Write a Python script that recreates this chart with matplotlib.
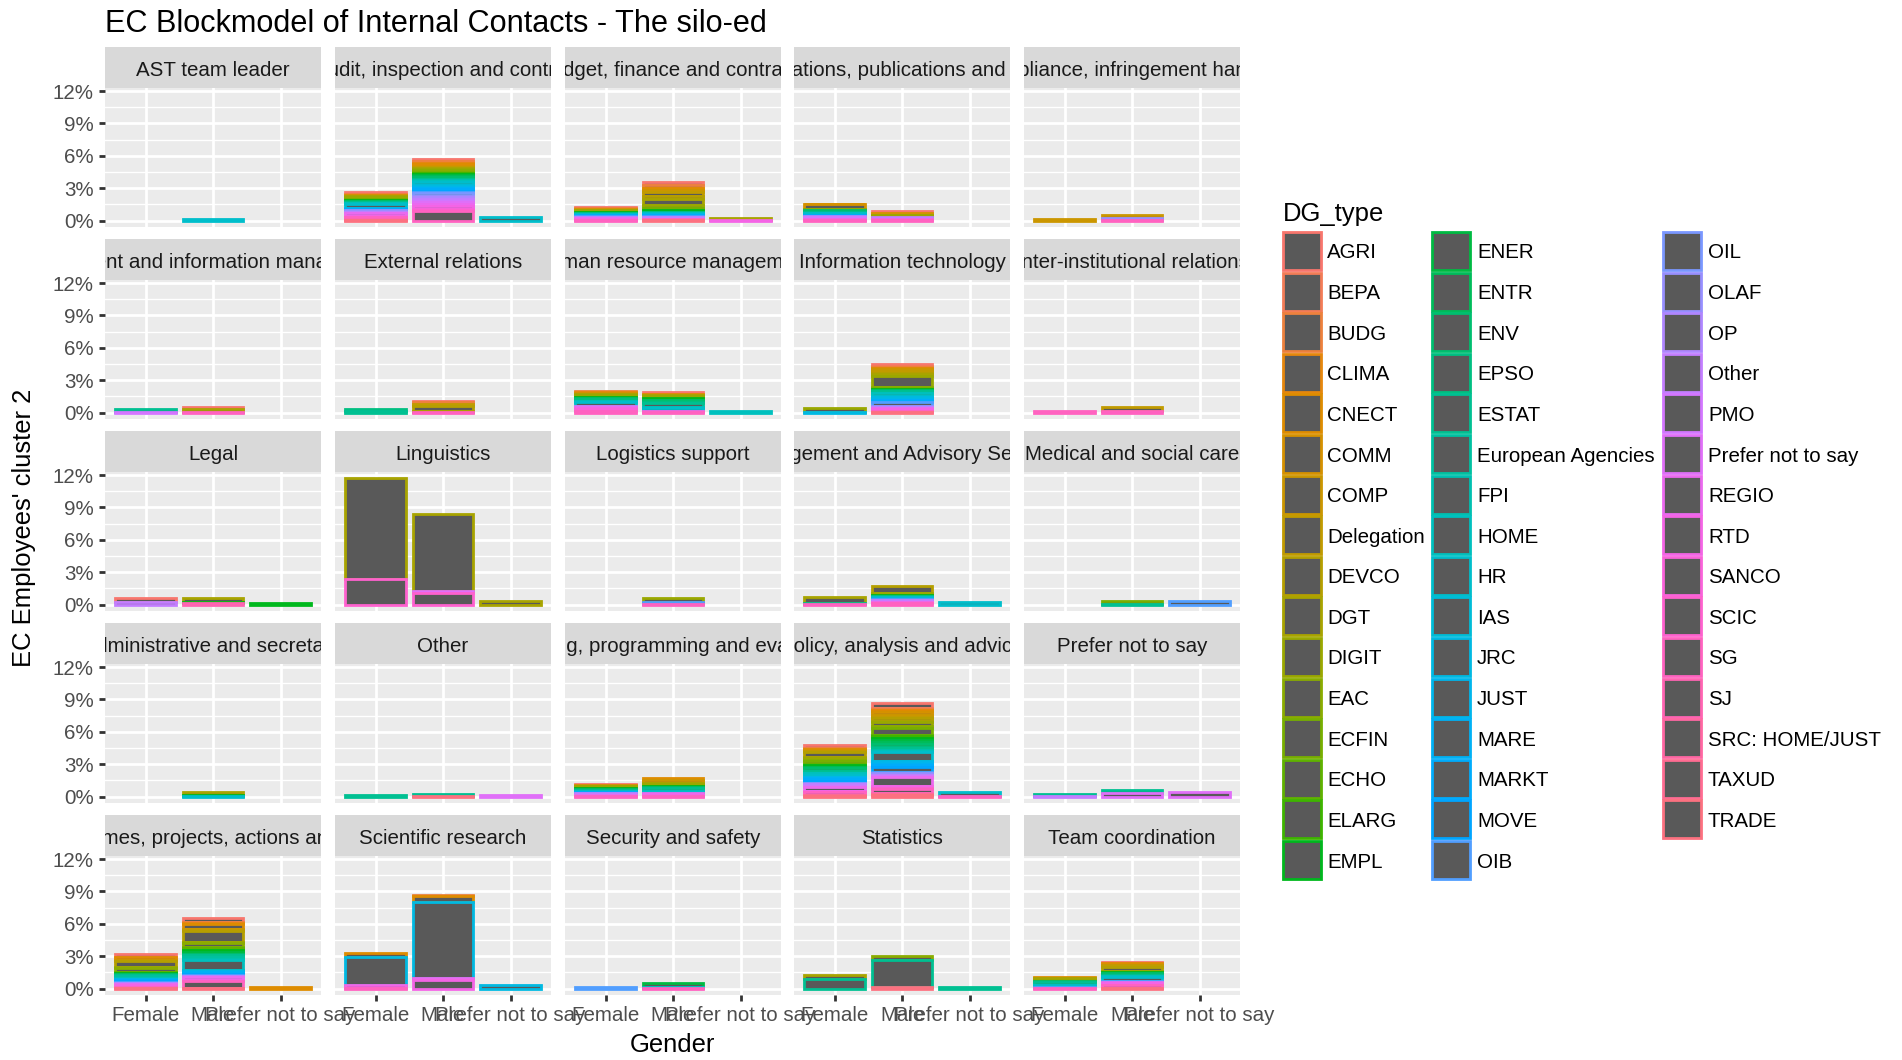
import numpy as np
import matplotlib
matplotlib.use("Agg")
import matplotlib.pyplot as plt
from matplotlib.patches import Rectangle

plt.rcParams["font.family"] = ["Liberation Sans", "DejaVu Sans"]

# ---------------------------------------------------------------- data (%)
DG_TYPES = ["AGRI", "BEPA", "BUDG", "CLIMA", "CNECT", "COMM", "COMP", "Delegation",
            "DEVCO", "DGT", "DIGIT", "EAC", "ECFIN", "ECHO", "ELARG", "EMPL",
            "ENER", "ENTR", "ENV", "EPSO", "ESTAT", "European Agencies", "FPI",
            "HOME", "HR", "IAS", "JRC", "JUST", "MARE", "MARKT", "MOVE", "OIB",
            "OIL", "OLAF", "OP", "Other", "PMO", "Prefer not to say", "REGIO",
            "RTD", "SANCO", "SCIC", "SG", "SJ", "SRC: HOME/JUST", "TAXUD", "TRADE"]

GENDERS = ["Female", "Male", "Prefer not to say"]

FACETS = ["AST team leader", "Audit, inspection and control",
          "Budget, finance and contracts", "Communications, publications and multimedia",
          "Compliance, infringement handling", "Document and information management",
          "External relations", "Human resource management", "Information technology",
          "Inter-institutional relations", "Legal", "Linguistics", "Logistics support",
          "Management and Advisory Services", "Medical and social care",
          "Office administrative and secretarial work", "Other",
          "Planning, programming and evaluation", "Policy, analysis and advice",
          "Prefer not to say", "Programmes, projects, actions and grants",
          "Scientific research", "Security and safety", "Statistics",
          "Team coordination"]

ast_team_leader = {"Female": {}, "Male": {"HR": 0.15}, "Prefer not to say": {}}

audit = {
    "Female": {"AGRI": 0.15, "BUDG": 0.15, "COMM": 0.1, "DGT": 0.1, "DIGIT": 0.15,
               "ECFIN": 0.1, "EMPL": 0.1, "ENV": 0.1, "ESTAT": 0.1, "HOME": 0.1,
               "HR": 0.3, "JUST": 0.1, "MARKT": 0.1, "OLAF": 0.15, "Other": 0.1,
               "REGIO": 0.35, "RTD": 0.1, "SG": 0.15, "SJ": 0.1, "TRADE": 0.05},
    "Male": {"AGRI": 0.2, "BUDG": 0.2, "CLIMA": 0.1, "CNECT": 0.15, "COMM": 0.1,
             "Delegation": 0.1, "DGT": 0.1, "DIGIT": 0.15, "EAC": 0.1, "ECFIN": 0.1,
             "ELARG": 0.1, "EMPL": 0.15, "ENER": 0.1, "ENTR": 0.1, "ENV": 0.15,
             "ESTAT": 0.1, "FPI": 0.1, "HOME": 0.1, "HR": 0.2, "IAS": 0.15, "JRC": 0.1,
             "JUST": 0.1, "MARE": 0.1, "MARKT": 0.15, "MOVE": 0.1, "OIB": 0.1,
             "OIL": 0.3, "OLAF": 0.1, "OP": 0.1, "Other": 0.2, "PMO": 0.15,
             "Prefer not to say": 0.15, "REGIO": 0.2, "RTD": 0.25, "SANCO": 0.1,
             "SCIC": 0.1, "SG": 0.9},
    "Prefer not to say": {"HR": 0.3},
}

budget = {
    "Female": {"AGRI": 0.05, "BUDG": 0.1, "COMM": 0.1, "DGT": 0.05, "DIGIT": 0.1,
               "EMPL": 0.1, "ESTAT": 0.1, "HR": 0.1, "MARKT": 0.1, "OIB": 0.1,
               "Other": 0.1, "REGIO": 0.1, "RTD": 0.05, "SG": 0.1},
    "Male": {"AGRI": 0.25, "BUDG": 0.3, "CNECT": 0.15, "COMP": 0.2, "Delegation": 0.4,
             "DEVCO": 0.2, "DGT": 0.6, "DIGIT": 0.3, "ECFIN": 0.2, "EMPL": 0.15,
             "ESTAT": 0.1, "HR": 0.1, "JRC": 0.1, "MARKT": 0.1, "OIB": 0.1,
             "Other": 0.1, "RTD": 0.05, "SG": 0.1, "TRADE": 0.05},
    "Prefer not to say": {"DGT": 0.2, "RTD": 0.05},
}

communications = {
    "Female": {"CNECT": 0.07, "COMM": 0.45, "EAC": 0.1, "ENV": 0.1, "ESTAT": 0.15,
               "HR": 0.15, "MARKT": 0.1, "OP": 0.15, "PMO": 0.1, "RTD": 0.1, "SG": 0.1},
    "Male": {"AGRI": 0.15, "COMM": 0.2, "DIGIT": 0.25, "Other": 0.1, "RTD": 0.1, "SG": 0.1},
    "Prefer not to say": {},
}

compliance = {
    "Female": {"COMP": 0.2},
    "Male": {"COMP": 0.27, "OLAF": 0.15, "SG": 0.1},
    "Prefer not to say": {},
}

document_management = {
    "Female": {"ESTAT": 0.28, "PMO": 0.1},
    "Male": {"AGRI": 0.2, "DGT": 0.3, "SG": 0.05},
    "Prefer not to say": {},
}

external_relations = {
    "Female": {"EPSO": 0.15, "ESTAT": 0.2},
    "Male": {"AGRI": 0.15, "BUDG": 0.1, "Delegation": 0.2, "DEVCO": 0.45, "DGT": 0.15,
             "SG": 0.05},
    "Prefer not to say": {},
}

human_resources = {
    "Female": {"BUDG": 0.1, "CLIMA": 0.1, "COMM": 0.1, "DGT": 0.1, "DIGIT": 0.15,
               "EMPL": 0.1, "ENV": 0.1, "EPSO": 0.15, "HOME": 0.1, "HR": 0.35,
               "PMO": 0.1, "REGIO": 0.1, "SANCO": 0.1, "RTD": 0.15, "SG": 0.2},
    "Male": {"AGRI": 0.2, "CNECT": 0.1, "DGT": 0.1, "DIGIT": 0.2, "EMPL": 0.15,
             "ENV": 0.2, "EPSO": 0.1, "ESTAT": 0.4, "HOME": 0.1, "HR": 0.2,
             "RTD": 0.1, "SG": 0.1},
    "Prefer not to say": {"HOME": 0.2},
}

information_technology = {
    "Female": {"DIGIT": 0.35, "JRC": 0.1},
    "Male": {"AGRI": 0.2, "BEPA": 0.1, "BUDG": 0.1, "CNECT": 0.15, "COMP": 0.15,
             "Delegation": 0.15, "DEVCO": 0.1, "DGT": 0.2, "DIGIT": 1.0, "EAC": 0.1,
             "ECFIN": 0.1, "EMPL": 0.1, "ENV": 0.1, "ESTAT": 0.15, "HOME": 0.3,
             "HR": 0.1, "JRC": 0.2, "JUST": 0.1, "MARKT": 0.2, "OIB": 0.3,
             "OLAF": 0.1, "Other": 0.15, "REGIO": 0.1, "RTD": 0.1, "SG": 0.15,
             "TRADE": 0.05},
    "Prefer not to say": {},
}

inter_institutional = {
    "Female": {"SG": 0.18},
    "Male": {"Delegation": 0.37, "SG": 0.12},
    "Prefer not to say": {},
}

legal = {
    "Female": {"AGRI": 0.33, "Other": 0.25},
    "Male": {"DGT": 0.35, "EMPL": 0.05, "SJ": 0.2},
    "Prefer not to say": {"EMPL": 0.2},
}

linguistics = {
    "Female": {"DGT": 9.35, "SCIC": 2.35},
    "Male": {"DGT": 7.15, "Prefer not to say": 0.15, "SCIC": 1.1},
    "Prefer not to say": {"DGT": 0.35},
}

logistics = {
    "Female": {},
    "Male": {"DIGIT": 0.35, "OIB": 0.15, "SG": 0.1},
    "Prefer not to say": {},
}

management_advisory = {
    "Female": {"DGT": 0.55, "ESTAT": 0.1, "SG": 0.05},
    "Male": {"DEVCO": 0.6, "DIGIT": 0.2, "EMPL": 0.1, "ESTAT": 0.1, "HR": 0.1,
             "JRC": 0.1, "OIB": 0.1, "Other": 0.15, "RTD": 0.1, "SG": 0.15},
    "Prefer not to say": {"HR": 0.25},
}

medical = {
    "Female": {},
    "Male": {"ECFIN": 0.3, "ESTAT": 0.05},
    "Prefer not to say": {"OIB": 0.3},
}

office_admin = {
    "Female": {},
    "Male": {"DGT": 0.28, "EMPL": 0.05, "HR": 0.1},
    "Prefer not to say": {},
}

other_function = {
    "Female": {"ESTAT": 0.2},
    "Male": {"ESTAT": 0.23, "TRADE": 0.05},
    "Prefer not to say": {"Prefer not to say": 0.2},
}

planning = {
    "Female": {"AGRI": 0.1, "COMM": 0.1, "DIGIT": 0.15, "EMPL": 0.1, "ENV": 0.1,
               "ESTAT": 0.15, "HR": 0.1, "MARKT": 0.1, "Other": 0.1, "REGIO": 0.1,
               "SG": 0.1},
    "Male": {"CNECT": 0.2, "COMP": 0.25, "DGT": 0.1, "DIGIT": 0.15, "EMPL": 0.1,
             "ENV": 0.1, "ESTAT": 0.3, "HOME": 0.1, "HR": 0.1, "REGIO": 0.1,
             "RTD": 0.1, "SG": 0.1},
    "Prefer not to say": {},
}

policy = {
    "Female": {"AGRI": 0.25, "BUDG": 0.1, "CNECT": 0.1, "COMM": 0.1, "Delegation": 0.1,
               "DEVCO": 0.5, "DGT": 0.1, "DIGIT": 0.15, "EAC": 0.1, "ECFIN": 0.3,
               "ECHO": 0.1, "EMPL": 0.15, "ENTR": 0.1, "ENV": 0.3, "ESTAT": 0.15,
               "HOME": 0.2, "HR": 0.15, "JUST": 0.1, "MARE": 0.15, "MARKT": 0.15,
               "MOVE": 0.15, "OLAF": 0.1, "Other": 0.2, "PMO": 0.1, "REGIO": 0.35,
               "RTD": 0.15, "SG": 0.25, "TAXUD": 0.05, "TRADE": 0.1},
    "Male": {"AGRI": 0.4, "BEPA": 0.1, "BUDG": 0.1, "CLIMA": 0.1, "CNECT": 0.15,
             "COMM": 0.2, "COMP": 0.2, "Delegation": 0.15, "DEVCO": 0.2, "DGT": 0.15,
             "DIGIT": 0.4, "EAC": 0.1, "ECFIN": 0.7, "ECHO": 0.1, "ELARG": 0.15,
             "EMPL": 0.2, "ENER": 0.2, "ENTR": 0.15, "ENV": 0.3, "EPSO": 0.1,
             "ESTAT": 0.15, "FPI": 0.1, "HOME": 0.15, "HR": 0.75, "JRC": 0.15,
             "JUST": 0.15, "MARE": 0.1, "MARKT": 0.2, "MOVE": 0.45, "OIB": 0.15,
             "OLAF": 0.1, "Other": 0.15, "PMO": 0.1, "REGIO": 0.85, "RTD": 0.15,
             "SCIC": 0.1, "SG": 0.35, "SJ": 0.1, "TAXUD": 0.1, "TRADE": 0.15},
    "Prefer not to say": {"HR": 0.4, "SG": 0.05},
}

prefer_not_to_say = {
    "Female": {"ESTAT": 0.2, "Other": 0.05},
    "Male": {"ESTAT": 0.28, "Prefer not to say": 0.3},
    "Prefer not to say": {"Prefer not to say": 0.4},
}

programmes = {
    "Female": {"AGRI": 0.3, "CNECT": 0.25, "COMP": 0.1, "DEVCO": 0.5, "DIGIT": 0.1,
               "EAC": 0.4, "ECHO": 0.1, "EMPL": 0.1, "ENV": 0.1, "ESTAT": 0.1,
               "European Agencies": 0.15, "HOME": 0.1, "JUST": 0.1, "MARKT": 0.1,
               "MOVE": 0.1, "OIB": 0.1, "Other": 0.1, "REGIO": 0.1, "RTD": 0.1,
               "SG": 0.15, "TRADE": 0.05},
    "Male": {"AGRI": 0.3, "BUDG": 0.15, "CLIMA": 0.1, "CNECT": 0.45, "COMP": 0.1,
             "Delegation": 0.1, "DEVCO": 1.0, "DIGIT": 0.1, "EAC": 0.3, "ECFIN": 0.15,
             "ECHO": 0.15, "EMPL": 0.2, "ENER": 0.15, "ENV": 0.15, "ESTAT": 0.15,
             "European Agencies": 0.2, "FPI": 0.1, "HOME": 0.95, "HR": 0.1,
             "JUST": 0.1, "MARE": 0.1, "MOVE": 0.1, "OIB": 0.15, "Other": 0.1,
             "REGIO": 0.2, "RTD": 0.1, "SG": 0.7, "TRADE": 0.05},
    "Prefer not to say": {"CNECT": 0.2},
}

scientific_research = {
    "Female": {"CNECT": 0.4, "JRC": 2.55, "RTD": 0.25, "SG": 0.1},
    "Male": {"BUDG": 0.15, "CNECT": 0.55, "JRC": 7.0, "REGIO": 0.2, "RTD": 0.8},
    "Prefer not to say": {"JRC": 0.37},
}

security = {
    "Female": {"OIB": 0.18},
    "Male": {"ENER": 0.35, "HR": 0.1, "SG": 0.05},
    "Prefer not to say": {},
}

statistics = {
    "Female": {"DGT": 0.35, "ESTAT": 0.9},
    "Male": {"EAC": 0.3, "ESTAT": 2.5, "TRADE": 0.2},
    "Prefer not to say": {"ESTAT": 0.2},
}

team_coordination = {
    "Female": {"CNECT": 0.15, "DGT": 0.1, "DIGIT": 0.15, "ENV": 0.1, "ESTAT": 0.25,
               "HR": 0.15, "OIB": 0.1, "SG": 0.1},
    "Male": {"AGRI": 0.15, "CNECT": 0.2, "Delegation": 0.1, "DEVCO": 0.4, "DIGIT": 0.1,
             "EMPL": 0.1, "ENV": 0.15, "ESTAT": 0.15, "HOME": 0.1, "HR": 0.3,
             "OIB": 0.1, "REGIO": 0.15, "RTD": 0.2, "SG": 0.25, "TRADE": 0.05},
    "Prefer not to say": {},
}

FACET_DATA = [ast_team_leader, audit, budget, communications, compliance,
              document_management, external_relations, human_resources,
              information_technology, inter_institutional, legal, linguistics,
              logistics, management_advisory, medical, office_admin, other_function,
              planning, policy, prefer_not_to_say, programmes, scientific_research,
              security, statistics, team_coordination]

Y_BREAKS = [0, 3, 6, 9, 12]


# ---------------------------------------------------------------- colours
def hcl_hex(h, c=100.0, l=65.0):
    """Polar LUV -> sRGB hex, as used by ggplot2's default hue palette."""
    xn, yn, zn = 95.047, 100.0, 108.883
    hr = np.deg2rad(h)
    U, V = c * np.cos(hr), c * np.sin(hr)
    Y = yn * ((l + 16.0) / 116.0) ** 3
    t = xn + yn + zn
    x, y = xn / t, yn / t
    un = 2 * x / (6 * y - x + 1.5)
    vn = 4.5 * y / (6 * y - x + 1.5)
    u = U / (13 * l) + un
    v = V / (13 * l) + vn
    X = 9.0 * Y * u / (4 * v)
    Z = -X / 3.0 - 5.0 * Y + 3.0 * Y / v
    X, Y, Z = X / yn, Y / yn, Z / yn
    rgb = [3.240479 * X - 1.537150 * Y - 0.498535 * Z,
           -0.969256 * X + 1.875992 * Y + 0.041556 * Z,
           0.055648 * X - 0.204043 * Y + 1.057311 * Z]
    out = []
    for ch in rgb:
        ch = 1.055 * ch ** (1 / 2.4) - 0.055 if ch > 0.0031308 else 12.92 * ch
        out.append(min(max(ch, 0.0), 1.0))
    return "#%02x%02x%02x" % tuple(int(round(255 * ch)) for ch in out)


n_dg = len(DG_TYPES)
hues = np.linspace(15, 375, n_dg + 1)[:n_dg]
DG_COLOURS = {name: hcl_hex(h) for name, h in zip(DG_TYPES, hues)}
BAR_FILL = "#595959"

# ---------------------------------------------------------------- layout (pixels)
W, H = 1902, 1060
fig = plt.figure(figsize=(W / 100, H / 100), dpi=100)
fig.patch.set_facecolor("white")


def frac(left, top, width, height):
    return [left / W, 1 - (top + height) / H, width / W, height / H]


PANEL_LEFT = [105, 335, 565, 794, 1024]
PANEL_W = 216
STRIP_TOP0, STRIP_H = 47, 41
PANEL_TOP0, PANEL_H = 88, 139
ROW_STEP = 192

TEXT_PT = 14.8
TITLE_PT = 22.1
AXTITLE_PT = 18.45

totals = [sum(d[g].values()) for d in FACET_DATA for g in GENDERS]
ymax = max(totals)
ylo, yhi = -0.05 * ymax, 1.05 * ymax

for k, (name, data) in enumerate(zip(FACETS, FACET_DATA)):
    r, c = divmod(k, 5)

    # strip
    sax = fig.add_axes(frac(PANEL_LEFT[c], STRIP_TOP0 + r * ROW_STEP, PANEL_W, STRIP_H))
    sax.set_facecolor("#D9D9D9")
    sax.set_xticks([])
    sax.set_yticks([])
    for sp in sax.spines.values():
        sp.set_visible(False)
    sax.text(0.5, 0.43, name, transform=sax.transAxes, ha="center", va="center",
             fontsize=TEXT_PT, color="#1A1A1A", clip_on=True)

    # panel
    ax = fig.add_axes(frac(PANEL_LEFT[c], PANEL_TOP0 + r * ROW_STEP, PANEL_W, PANEL_H))
    ax.set_facecolor("#EBEBEB")
    for sp in ax.spines.values():
        sp.set_visible(False)
    ax.set_xlim(0.4, 3.6)
    ax.set_ylim(ylo, yhi)
    ax.set_axisbelow(True)

    for gi, g in enumerate(GENDERS):
        segs = data[g]
        # stack: last level at the bottom, first level on top
        bottoms = {}
        acc = 0.0
        for dg in reversed(DG_TYPES):
            if dg in segs:
                bottoms[dg] = acc
                acc += segs[dg]
        for zi, dg in enumerate(DG_TYPES):
            if dg in segs:
                ax.bar(gi + 1, segs[dg], bottom=bottoms[dg], width=0.9,
                       color=BAR_FILL, edgecolor=DG_COLOURS[dg], linewidth=2.0,
                       zorder=2 + zi * 0.01)

    ax.set_xticks([1, 2, 3])
    ax.set_yticks(Y_BREAKS)
    ax.set_yticks([1.5, 4.5, 7.5, 10.5], minor=True)
    ax.grid(which="major", color="white", linewidth=2.0)
    ax.grid(which="minor", axis="y", color="white", linewidth=1.0)
    ax.tick_params(which="minor", length=0)
    ax.tick_params(which="major", length=4.6, width=2.0, color="#333333",
                   labelcolor="#4D4D4D", labelsize=TEXT_PT, pad=3.5)

    if c == 0:
        ax.set_yticklabels([f"{v}%" for v in Y_BREAKS])
    else:
        ax.tick_params(axis="y", length=0, labelleft=False)
    if r == 4:
        ax.set_xticklabels(GENDERS)
    else:
        ax.tick_params(axis="x", length=0, labelbottom=False)

# ---------------------------------------------------------------- titles
fig.text(105 / W, 1 - 32 / H, "EC Blockmodel of Internal Contacts - The silo-ed",
         fontsize=TITLE_PT, color="black", va="baseline", ha="left")
fig.text(672 / W, 1 - 1052 / H, "Gender", fontsize=AXTITLE_PT, ha="center",
         va="baseline")
fig.text(24 / W, 1 - 528 / H, "EC Employees' cluster 2", fontsize=AXTITLE_PT,
         rotation=90, ha="center", va="center")

# ---------------------------------------------------------------- legend
lax = fig.add_axes([0, 0, 1, 1], zorder=-1)
lax.set_xlim(0, W)
lax.set_ylim(H, 0)
lax.axis("off")

lax.text(1283, 221, "DG_type", fontsize=AXTITLE_PT, va="baseline", ha="left")
col_key_left = [1283, 1432, 1663]
col_text_left = [1327, 1477, 1708]
rows_per_col = 16
for i, dg in enumerate(DG_TYPES):
    col, row = divmod(i, rows_per_col)
    yc = 251 + 40.6 * row
    lax.add_patch(Rectangle((col_key_left[col], yc - 19), 38, 38,
                            facecolor=BAR_FILL, edgecolor=DG_COLOURS[dg],
                            linewidth=2.0))
    lax.text(col_text_left[col], yc, dg, fontsize=TEXT_PT, va="center_baseline",
             ha="left", color="black")

fig.savefig("out.png", dpi=100, facecolor="white")
